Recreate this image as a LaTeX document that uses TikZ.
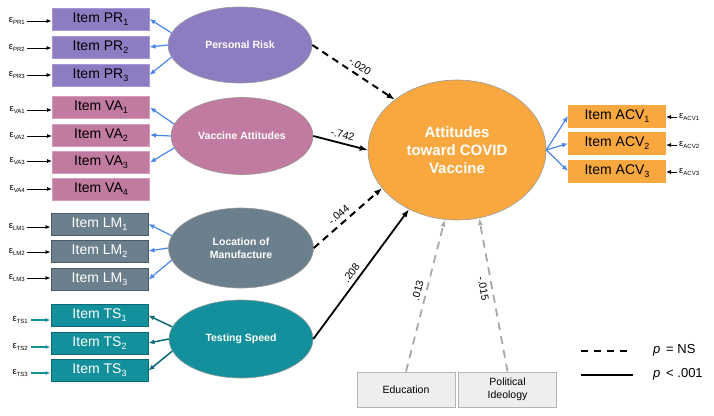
\documentclass[tikz,border=0pt]{standalone}
\usepackage{fontspec}
\setmainfont{Liberation Sans}
\usetikzlibrary{shapes.geometric,arrows.meta}
\definecolor{prfill}{HTML}{8E7CC3}
\definecolor{prline}{HTML}{A797D6}
\definecolor{vafill}{HTML}{C27BA0}
\definecolor{valine}{HTML}{D69CBB}
\definecolor{lmfill}{HTML}{6C7F8D}
\definecolor{lmline}{HTML}{4C5D69}
\definecolor{tsfill}{HTML}{13909C}
\definecolor{tsline}{HTML}{0B6A74}
\definecolor{cfill}{HTML}{F8A83E}
\definecolor{loadblue}{HTML}{4A86E8}
\definecolor{covgray}{HTML}{A8A8A8}
\definecolor{covfill}{HTML}{EEEEEE}
\definecolor{covline}{HTML}{B5B5B5}
\newcommand{\sbs}[1]{\raisebox{-3pt}{\fontsize{9}{9}\selectfont #1}}
\newcommand{\epsl}[1]{{\fontsize{9.5}{9.5}\selectfont ε}\raisebox{-1.5pt}{\fontsize{6}{6}\selectfont #1}}
\tikzset{
  itembox/.style={draw, line width=1pt, minimum width=97pt, minimum height=22pt, inner sep=0pt, font=\fontsize{14}{16}\selectfont},
  prbox/.style={itembox, fill=prfill, draw=prline, text=black},
  vabox/.style={itembox, fill=vafill, draw=valine, text=black},
  lmbox/.style={itembox, fill=lmfill, draw=lmline, text=white},
  tsbox/.style={itembox, fill=tsfill, draw=tsline, text=white},
  acvbox/.style={itembox, fill=cfill, draw=cfill, text=black},
  latent/.style={ellipse, draw=gray!80, line width=0.6pt, inner sep=0pt, text=white, align=center, font=\fontsize{10.5}{12.5}\selectfont\bfseries},
  errlab/.style={inner sep=0pt, anchor=east},
  errarr/.style={-{Latex[length=5pt,width=4pt]}, line width=0.8pt, black},
  tserrarr/.style={-{Latex[length=5pt,width=4pt]}, line width=1.2pt, tsfill},
  load/.style={-{Latex[length=6pt,width=5pt]}, line width=1.2pt, loadblue},
  tsload/.style={-{Latex[length=6pt,width=5pt]}, line width=1.5pt, tsline},
  nspath/.style={-{Latex[length=8pt,width=6pt]}, line width=2pt, black, dash pattern=on 7pt off 5pt},
  sigpath/.style={-{Latex[length=8pt,width=6pt]}, line width=1.8pt, black},
  covpath/.style={-{Latex[length=7pt,width=5pt]}, line width=1.8pt, covgray, dash pattern=on 8pt off 6pt},
  covbox/.style={draw=covline, fill=covfill, line width=1pt, minimum width=98pt, minimum height=35pt, inner sep=0pt, align=center, font=\fontsize{10.5}{12.5}\selectfont},
  coef/.style={inner sep=4pt, text=black, font=\fontsize{10.5}{12}\selectfont},
}
\begin{document}
\begin{tikzpicture}[x=1pt,y=-1pt]
\useasboundingbox (0,0) rectangle (714,415);
% latent variables
\node[latent, fill=prfill, minimum width=144pt, minimum height=76pt] (PR) at (240,45) {Personal Risk};
\node[latent, fill=vafill, minimum width=142pt, minimum height=77pt] (VA) at (242,136) {Vaccine Attitudes};
\node[latent, fill=lmfill, minimum width=145pt, minimum height=80pt] (LM) at (241,248) {Location of\\Manufacture};
\node[latent, fill=tsfill, minimum width=144pt, minimum height=78pt] (TS) at (241,339) {Testing Speed};
\node[latent, fill=cfill, minimum width=178pt, minimum height=140pt, font=\fontsize{15}{18}\selectfont\bfseries] (C) at (457,150) {Attitudes\\toward COVID\\Vaccine};
% items
\node[prbox] (pr1) at (100.5,19) {Item PR\sbs{1}};
\node[prbox] (pr2) at (100.5,47) {Item PR\sbs{2}};
\node[prbox] (pr3) at (100.5,75) {Item PR\sbs{3}};
\node[vabox] (va1) at (101,107.5) {Item VA\sbs{1}};
\node[vabox] (va2) at (101,135) {Item VA\sbs{2}};
\node[vabox] (va3) at (101,162.5) {Item VA\sbs{3}};
\node[vabox] (va4) at (101,189.5) {Item VA\sbs{4}};
\node[lmbox] (lm1) at (99.5,224) {Item LM\sbs{1}};
\node[lmbox] (lm2) at (99.5,251) {Item LM\sbs{2}};
\node[lmbox] (lm3) at (99.5,279.5) {Item LM\sbs{3}};
\node[tsbox] (ts1) at (99.5,315.5) {Item TS\sbs{1}};
\node[tsbox] (ts2) at (99.5,343) {Item TS\sbs{2}};
\node[tsbox] (ts3) at (99.5,370.5) {Item TS\sbs{3}};
\node[acvbox] (acv1) at (617,116) {Item ACV\sbs{1}};
\node[acvbox] (acv2) at (617,143.5) {Item ACV\sbs{2}};
\node[acvbox] (acv3) at (617,171) {Item ACV\sbs{3}};
% error terms
\node[errlab] (epr1) at (25,21) {\epsl{PR1}};
\node[errlab] (epr2) at (25,48) {\epsl{PR2}};
\node[errlab] (epr3) at (25,75) {\epsl{PR3}};
\node[errlab] (eva1) at (25,110) {\epsl{VA1}};
\node[errlab] (eva2) at (25,136) {\epsl{VA2}};
\node[errlab] (eva3) at (25,161) {\epsl{VA3}};
\node[errlab] (eva4) at (25,189) {\epsl{VA4}};
\node[errlab] (elm1) at (25,227) {\epsl{LM1}};
\node[errlab] (elm2) at (25,252) {\epsl{LM2}};
\node[errlab] (elm3) at (25,278) {\epsl{LM3}};
\node[errlab] (ets1) at (28,320) {\epsl{TS1}};
\node[errlab] (ets2) at (28,347) {\epsl{TS2}};
\node[errlab] (ets3) at (28,373) {\epsl{TS3}};
\node[errlab, anchor=west] (eacv1) at (679,117) {\epsl{ACV1}};
\node[errlab, anchor=west] (eacv2) at (679,145) {\epsl{ACV2}};
\node[errlab, anchor=west] (eacv3) at (679,172) {\epsl{ACV3}};
\foreach \e/\b in {epr1/pr1,epr2/pr2,epr3/pr3,eva1/va1,eva2/va2,eva3/va3,eva4/va4,elm1/lm1,elm2/lm2,elm3/lm3}
  \draw[errarr] ([xshift=2pt]\e.east) -- (\b.west |- \e.east);
\foreach \e/\b in {ets1/ts1,ets2/ts2,ets3/ts3}
  \draw[tserrarr] ([xshift=3pt]\e.east) -- (\b.west |- \e.east);
\foreach \e/\b in {eacv1/acv1,eacv2/acv2,eacv3/acv3}
  \draw[errarr] ([xshift=-2pt]\e.west) -- (\b.east |- \e.west);
% loadings
\draw[load] (PR.170) -- (pr1.east);
\draw[load] (PR.west) -- (pr2.east);
\draw[load] (PR.190) -- (pr3.east);
\draw[load] (VA.170) -- (va1.east);
\draw[load] (VA.west) -- (va2.east);
\draw[load] (VA.190) -- (va3.east);
\draw[load] (LM.170) -- (lm1.east);
\draw[load] (LM.west) -- (lm2.east);
\draw[load] (LM.190) -- (lm3.east);
\draw[tsload] (TS.170) -- (ts1.east);
\draw[tsload] (TS.west) -- (ts2.east);
\draw[tsload] (TS.190) -- (ts3.east);
\draw[load] (C.east) -- (acv1.west);
\draw[load] (C.east) -- (acv2.west);
\draw[load] (C.east) -- (acv3.west);
% structural paths
\draw[nspath] (PR.east) -- node[coef, pos=0.52, above, sloped] {-.020} (C.141);
\draw[sigpath] (VA.east) -- node[coef, pos=0.5, above, sloped] {-.742} (C.west);
\draw[nspath] (LM.east) -- node[coef, pos=0.45, above, sloped] {-.044} (C.207);
\draw[sigpath] (TS.east) -- node[coef, pos=0.47, above, sloped] {.208} (C.231);
% covariates
\node[covbox] (edu) at (406,389.5) {Education};
\node[covbox] (pol) at (507.5,389.5) {Political\\Ideology};
\draw[covpath] (edu.north) -- node[coef, pos=0.52, above, sloped] {.013} (C.260);
\draw[covpath] (pol.north) -- node[coef, pos=0.55, below, sloped] {-.015} (C.288);
% legend
\coordinate (l1a) at (581,351);
\coordinate (l1b) at (633,351);
\coordinate (l2a) at (581,375);
\coordinate (l2b) at (633,375);
\draw[line width=2pt, dash pattern=on 7pt off 6pt] (l1a) -- (l1b);
\draw[line width=2pt] (l2a) -- (l2b);
\node[anchor=west, inner sep=0pt, font=\fontsize{13}{15}\selectfont] (ns) at (653,350) {\textit{p}\, = NS};
\node[anchor=west, inner sep=0pt, font=\fontsize{13}{15}\selectfont] (sig) at (653,374) {\textit{p}\, < .001};
\end{tikzpicture}
\end{document}
